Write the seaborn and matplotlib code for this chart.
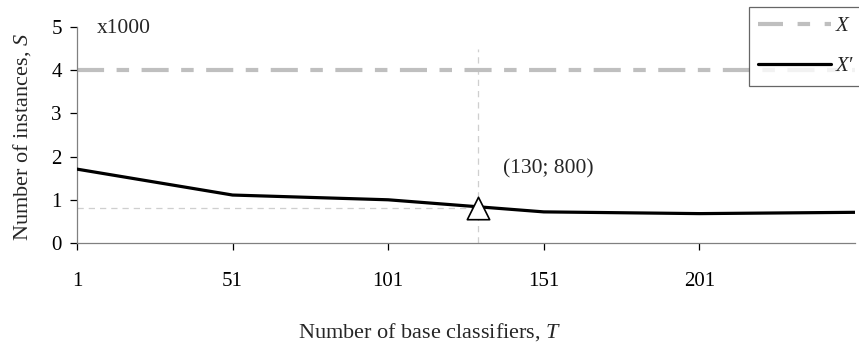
import matplotlib
matplotlib.use("Agg")
import matplotlib.pyplot as plt
import seaborn as sns
import pandas as pd
from matplotlib.lines import Line2D

# Ensemble size vs. number of instances (thousands)
base_classifiers = [1, 51, 101, 151, 201, 251]
reduced_instances = [1.71, 1.11, 1.00, 0.72, 0.68, 0.71]
full_instances = 4.0
chosen_T = 130
chosen_S = 0.8
x_ticks = [1, 51, 101, 151, 201]
y_ticks = [0, 1, 2, 3, 4, 5]

TICK_FS = 15
TEXT_FS = 15.5
LABEL_FS = 16

sns.set_theme(style="white")
plt.rcParams["font.family"] = ["Liberation Serif", "DejaVu Serif"]
plt.rcParams["mathtext.fontset"] = "custom"
plt.rcParams["mathtext.rm"] = "Liberation Serif"
plt.rcParams["mathtext.it"] = "Liberation Serif:italic"

fig = plt.figure(figsize=(8.59, 3.45), dpi=100)
ax = fig.add_axes([0.0896, 0.2957, 0.9057, 0.626])

df = pd.DataFrame({"T": base_classifiers, "S": reduced_instances})

# Full training set size
ax.axhline(full_instances, color="#BFBFBF", lw=3, dashes=(6.5, 3, 3, 3), zorder=2)

# Guides to the selected operating point
ax.plot([chosen_T, chosen_T], [0, 4.5], color="#CFCFCF", lw=0.9, ls=(0, (5, 4)), zorder=1)
ax.plot([base_classifiers[0], chosen_T], [chosen_S, chosen_S], color="#CFCFCF", lw=0.9,
        ls=(0, (5, 4)), zorder=1)

sns.lineplot(data=df, x="T", y="S", color="black", lw=2.3, ax=ax, zorder=3)

ax.scatter([chosen_T], [chosen_S], marker="^", s=260, facecolor="white",
           edgecolor="black", linewidth=1.2, zorder=4)
ax.text(138, 1.71, "(130; 800)", fontsize=TEXT_FS, ha="left", va="center")
ax.text(7.5, 4.97, "x1000", fontsize=TEXT_FS, ha="left", va="center")

ax.set_xlim(1, 251)
ax.set_ylim(0, 5)
ax.set_xticks(x_ticks)
ax.set_yticks(y_ticks)
ax.tick_params(axis="both", labelsize=TICK_FS, colors="black", length=5, width=0.9,
               direction="out", bottom=True, left=True)
ax.tick_params(axis="x", pad=16)
ax.tick_params(axis="y", pad=6)
for s in ["top", "right"]:
    ax.spines[s].set_visible(False)
for s in ["left", "bottom"]:
    ax.spines[s].set_color("#808080")
    ax.spines[s].set_linewidth(0.9)

ax.set_xlabel("Number of base classifiers, $T$", fontsize=LABEL_FS, va="center")
ax.xaxis.set_label_coords(0.4537, -0.412)
ax.set_ylabel("Number of instances, $S$", fontsize=LABEL_FS, va="center")
ax.yaxis.set_label_coords(-0.0707, 0.491)

handles = [
    Line2D([], [], color="#BFBFBF", lw=3, dashes=(6, 3.5, 3, 3.5)),
    Line2D([], [], color="black", lw=2.3),
]
leg = fig.legend(handles, ["X  ", "X\u2032  "], loc="upper left",
                 bbox_to_anchor=(749 / 859, 1 - 7 / 345),
                 frameon=True, fancybox=False, handlelength=3.5,
                 prop={"size": 15, "style": "italic"},
                 handletextpad=0.2, borderpad=0.45, labelspacing=1.0,
                 borderaxespad=0)
leg.get_frame().set_edgecolor("#404040")
leg.get_frame().set_linewidth(0.9)

fig.savefig("out.png", dpi=100)
